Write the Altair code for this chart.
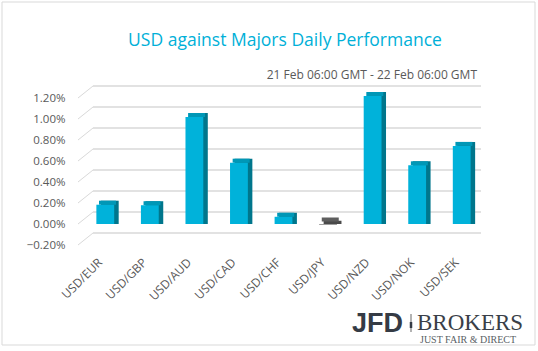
import altair as alt
import pandas as pd

pairs = ["USD/EUR", "USD/GBP", "USD/AUD", "USD/CAD", "USD/CHF", "USD/JPY", "USD/NZD", "USD/NOK", "USD/SEK"]
values = [0.16, 0.155, 0.995, 0.56, 0.045, -0.03, 1.195, 0.535, 0.72]
ticks = [-0.2, 0.0, 0.2, 0.4, 0.6, 0.8, 1.0, 1.2]

FRONT_POS, TOP_POS, SIDE_POS = "#00B2DA", "#0097B6", "#00768C"
FRONT_NEG, TOP_NEG, SIDE_NEG = "#7F7F7F", "#5E5E5E", "#4A4A4A"

df = pd.DataFrame({"pair": pairs, "value": values})
df["zero"] = 0.0
df["front"] = [FRONT_POS if v >= 0 else FRONT_NEG for v in values]
df["top"] = [TOP_POS if v >= 0 else TOP_NEG for v in values]
df["side"] = [SIDE_POS if v >= 0 else SIDE_NEG for v in values]
df["topv"] = [max(v, 0.0) for v in values]

tick_df = pd.DataFrame({"t": ticks})

W, H = 401, 147
FONT = "Open Sans"
GRID = "#D9D9D9"

x_axis = alt.Axis(title=None, labelAngle=-45, labelAlign="right", labelBaseline="middle",
                  labelPadding=15, ticks=False, domain=False, grid=False, labelFont=FONT,
                  labelFontSize=12, labelColor="#595959", zindex=1)
y_axis = alt.Axis(title=None, values=ticks, labelExpr="format(datum.value/100, '.2%')",
                  grid=False, ticks=False, domain=False, labelPadding=13,
                  labelFont=FONT, labelFontSize=11.5, labelColor="#595959", zindex=1)
xscale = alt.Scale(domain=pairs, paddingInner=0.6, paddingOuter=0.3)
yscale = alt.Scale(domain=[-0.2, 1.2], nice=False, zero=False)

xs = alt.X("pair:N", sort=pairs, scale=xscale, axis=x_axis)
ys = alt.Y("value:Q", scale=yscale, axis=y_axis)

base_bars = alt.Chart(df)

border = alt.Chart(pd.DataFrame({"a": [0]})).mark_rect(
    fill="transparent", stroke=GRID, strokeWidth=1
).encode(x=alt.value(-76), x2=alt.value(457), y=alt.value(-96), y2=alt.value(247))

grid_back = alt.Chart(tick_df).mark_rule(color=GRID, strokeWidth=1.5, yOffset=-12).encode(
    y=alt.Y("t:Q", scale=yscale, axis=y_axis), x=alt.value(15), x2=alt.value(403))
grid_diag = alt.Chart(tick_df).mark_rule(color=GRID, strokeWidth=1, y2Offset=-12).encode(
    y=alt.Y("t:Q", scale=yscale, axis=y_axis), y2="t:Q", x=alt.value(0), x2=alt.value(15))

side = base_bars.mark_bar(xOffset=9.5, yOffset=-6.5, opacity=1).encode(
    x=xs, y=ys, y2="zero:Q", color=alt.Color("side:N", scale=None))
top = base_bars.mark_tick(xOffset=7.2, yOffset=-4.5, thickness=4, size=17, opacity=1).encode(
    x=xs, y=alt.Y("topv:Q", scale=yscale, axis=y_axis), color=alt.Color("top:N", scale=None))
front = base_bars.mark_bar(xOffset=5, yOffset=-2.5, opacity=1).encode(
    x=xs, y=ys, y2="zero:Q", color=alt.Color("front:N", scale=None))

def label(text, x, y, size, color, font=FONT, weight="normal", align="left"):
    return alt.Chart(pd.DataFrame({"s": [text]})).mark_text(
        font=font, fontSize=size, color=color, fontWeight=weight, align=align, baseline="alphabetic"
    ).encode(text="s:N", x=alt.value(x), y=alt.value(y))

title = label("USD against Majors Daily Performance", 207, -52, 17.5, "#00B0D8", align="center")
subtitle = label("21 Feb 06:00 GMT - 22 Feb 06:00 GMT", 399, -19, 12, "#595959", align="right")
jfd = label("JFD", 274, 234, 27, "#353B45", font="Liberation Sans", weight="bold")
brokers = label("BROKERS", 339, 231.5, 23, "#3A3F48", font="Liberation Serif")
tagline = label("JUST FAIR & DIRECT", 342, 244.5, 10, "#5A5F66", font="Liberation Serif")
divider = alt.Chart(pd.DataFrame({"a": [0]})).mark_rule(color="#9A9A9A", strokeWidth=1.5).encode(
    x=alt.value(333), y=alt.value(216), y2=alt.value(234))
divider_dot = alt.Chart(pd.DataFrame({"a": [0]})).mark_rule(color="#353B45", strokeWidth=2.5).encode(
    x=alt.value(333), y=alt.value(224), y2=alt.value(230))

chart = alt.layer(
    border, grid_back, grid_diag, side, top, front,
    title, subtitle, jfd, brokers, tagline, divider, divider_dot
).properties(
    width=W, height=H,
    autosize=alt.AutoSizeParams(type="none"),
    padding={"left": 78, "top": 98, "right": 59, "bottom": 106},
    background="white",
).configure_view(stroke=None)

chart.save("out.html", embed_options={"renderer": "svg", "actions": False})
